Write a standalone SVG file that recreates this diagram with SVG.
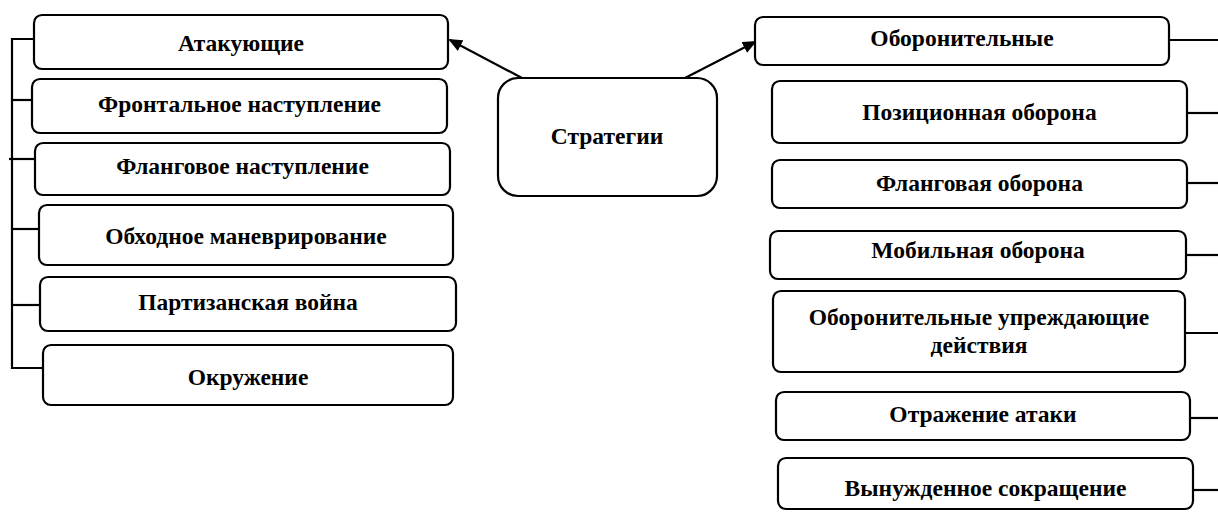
<svg xmlns="http://www.w3.org/2000/svg" width="1218" height="512" viewBox="0 0 1218 512">
<style>
.box{fill:#fff;stroke:#000;stroke-width:2.2}
.t{font-family:"Liberation Serif","Times New Roman",serif;font-weight:bold;font-size:23.5px;text-anchor:middle;fill:#000}
.c{fill:none;stroke:#000;stroke-width:2.2}
</style>
<defs>
<marker id="ah" markerWidth="14" markerHeight="12" refX="12" refY="6" orient="auto" markerUnits="userSpaceOnUse" viewBox="0 0 14 12">
<path d="M0,0 L14,6 L0,12 z" fill="#000"/>
</marker>
</defs>
<g id="connectors">
<line class="c" x1="522" y1="78" x2="450" y2="40" marker-end="url(#ah)"/>
<line class="c" x1="685" y1="78" x2="755" y2="42" marker-end="url(#ah)"/>
<path class="c" d="M34,39 H12 V368 H43"/>
<line class="c" x1="12" y1="100" x2="32" y2="100"/>
<line class="c" x1="9" y1="159" x2="35" y2="159"/>
<line class="c" x1="12" y1="229" x2="39" y2="229"/>
<line class="c" x1="12" y1="305" x2="40" y2="305"/>
<line class="c" x1="1169" y1="40" x2="1218" y2="40"/>
<line class="c" x1="1187" y1="113" x2="1218" y2="113"/>
<line class="c" x1="1187" y1="183" x2="1218" y2="183"/>
<line class="c" x1="1186" y1="255" x2="1218" y2="255"/>
<line class="c" x1="1185" y1="333" x2="1218" y2="333"/>
<line class="c" x1="1190" y1="418" x2="1218" y2="418"/>
<line class="c" x1="1193" y1="490" x2="1218" y2="490"/>
</g>
<g id="strategies">
<rect class="box" x="498" y="78" width="219" height="118" rx="20"/>
<text class="t" x="607" y="144">Стратегии</text>
</g>
<g id="attacking">
<rect class="box" x="34" y="15" width="414" height="54" rx="8"/>
<text class="t" x="241" y="51">Атакующие</text>
</g>
<g id="frontal">
<rect class="box" x="32" y="79" width="415" height="54" rx="8"/>
<text class="t" x="239.5" y="112">Фронтальное наступление</text>
</g>
<g id="flank-attack">
<rect class="box" x="35" y="143" width="415" height="52" rx="8"/>
<text class="t" x="242.5" y="174">Фланговое наступление</text>
</g>
<g id="bypass">
<rect class="box" x="39" y="205" width="414" height="60" rx="8"/>
<text class="t" x="246" y="244">Обходное маневрирование</text>
</g>
<g id="guerrilla">
<rect class="box" x="40" y="277" width="416" height="54" rx="8"/>
<text class="t" x="248" y="310">Партизанская война</text>
</g>
<g id="encirclement">
<rect class="box" x="43" y="345" width="410" height="60" rx="8"/>
<text class="t" x="248" y="385">Окружение</text>
</g>
<g id="defensive">
<rect class="box" x="755" y="17" width="414" height="48" rx="8"/>
<text class="t" x="962" y="46">Оборонительные</text>
</g>
<g id="positional">
<rect class="box" x="772" y="81" width="415" height="62" rx="8"/>
<text class="t" x="979.5" y="120">Позиционная оборона</text>
</g>
<g id="flank-defense">
<rect class="box" x="772" y="160" width="415" height="48" rx="8"/>
<text class="t" x="979.5" y="191">Фланговая оборона</text>
</g>
<g id="mobile">
<rect class="box" x="770" y="231" width="416" height="48" rx="8"/>
<text class="t" x="978" y="258">Мобильная оборона</text>
</g>
<g id="preemptive">
<rect class="box" x="773" y="291" width="412" height="81" rx="8"/>
<text class="t" x="979" y="325">Оборонительные упреждающие</text>
<text class="t" x="979" y="353">действия</text>
</g>
<g id="counterattack">
<rect class="box" x="776" y="392" width="414" height="48" rx="8"/>
<text class="t" x="983" y="422">Отражение атаки</text>
</g>
<g id="withdrawal">
<rect class="box" x="778" y="458" width="415" height="51" rx="8"/>
<text class="t" x="985.5" y="496">Вынужденное сокращение</text>
</g>
</svg>
